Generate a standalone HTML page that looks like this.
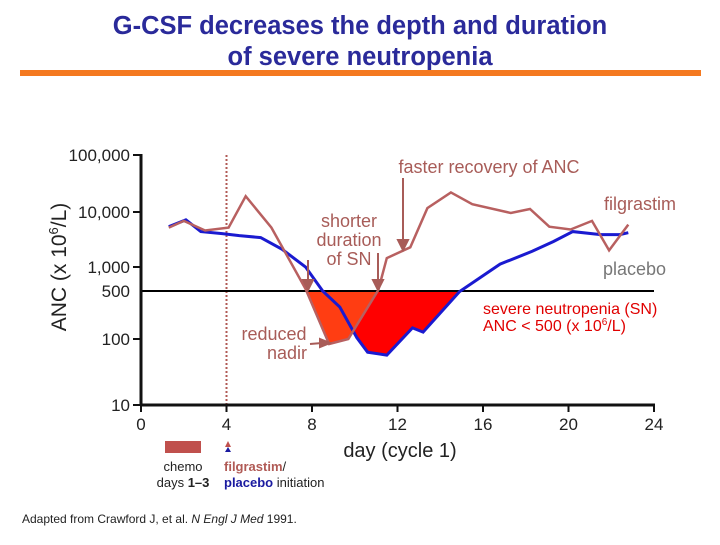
<!DOCTYPE html>
<html><head><meta charset="utf-8"><style>
body{margin:0;background:#fff;width:720px;height:540px;overflow:hidden;font-family:"Liberation Sans",sans-serif}
</style></head><body>
<svg id="chart" width="720" height="540" xmlns="http://www.w3.org/2000/svg" font-family="Liberation Sans, sans-serif">
<text x="360" y="34" text-anchor="middle" font-size="25.5" font-weight="bold" fill="#2a2a9a">G-CSF decreases the depth and duration</text>
<text x="360" y="65" text-anchor="middle" font-size="25.5" font-weight="bold" fill="#2a2a9a">of severe neutropenia</text>
<rect x="20" y="70" width="681" height="6" fill="#f47920"/>
<g id="plot"></g>
<text transform="translate(66,267) rotate(-90)" text-anchor="middle" font-size="21" fill="#222">ANC (x 10<tspan dy="-8" font-size="13">6</tspan><tspan dy="8">/L)</tspan></text>
<text x="400" y="457" text-anchor="middle" font-size="20" fill="#222">day (cycle 1)</text>
<text x="489" y="173" text-anchor="middle" font-size="18" fill="#a85c58">faster recovery of ANC</text>
<text text-anchor="middle" font-size="18" fill="#a85c58"><tspan x="349" y="227">shorter</tspan><tspan x="349" y="246">duration</tspan><tspan x="349" y="265">of SN</tspan></text>
<text text-anchor="middle" font-size="18" fill="#a85c58"><tspan x="274" y="340">reduced</tspan><tspan x="287" y="359">nadir</tspan></text>
<text x="604" y="210" font-size="18" fill="#a85c58">filgrastim</text>
<text x="603" y="275" font-size="18" fill="#777">placebo</text>
<text font-size="16" fill="#e00000"><tspan x="483" y="314">severe neutropenia (SN)</tspan><tspan x="483" y="331">ANC &lt; 500 (x 10</tspan><tspan dy="-6" font-size="10">6</tspan><tspan dy="6">/L)</tspan></text>
<g stroke="#a85c58" stroke-width="2" fill="#a85c58">
<line x1="403" y1="178" x2="403" y2="243"/><polygon points="398,240 408,240 403,250"/>
<line x1="308" y1="260" x2="308" y2="282"/><polygon points="303,280 313,280 308,290"/>
<line x1="378" y1="253" x2="378" y2="282"/><polygon points="373,280 383,280 378,290"/>
<line x1="310" y1="344" x2="322" y2="343"/><polygon points="320,339 330,343 320,347"/>
</g>
<rect x="165" y="441" width="36" height="12" fill="#c0504d"/>
<polygon points="228,441 225,447 231,447" fill="#c0504d"/>
<polygon points="228,447 225,452 231,452" fill="#1a1aa0"/>
<text text-anchor="middle" font-size="13" fill="#222"><tspan x="183" y="471">chemo</tspan><tspan x="183" y="487">days <tspan font-weight="bold">1–3</tspan></tspan></text>
<text font-size="13" fill="#222"><tspan x="224" y="471" font-weight="bold" fill="#b05a55">filgrastim</tspan><tspan>/</tspan><tspan x="224" y="487" font-weight="bold" fill="#1a1aa0">placebo</tspan><tspan> initiation</tspan></text>
<text x="22" y="523" font-size="12" fill="#222">Adapted from Crawford J, et al. <tspan font-style="italic">N Engl J Med</tspan> 1991.</text>
</svg>
<script>
const tickValues=[10,100,500,1000,10000,100000];
const tickLabels=["10","100","500","1,000","10,000","100,000"];
const xTicks=[0,4,8,12,16,20,24];
const filDays=[1.3,2.0,3.0,4.1,4.9,6.1,7.7,8.8,9.7,11.1,11.5,12.6,13.4,14.5,15.5,17.3,18.2,19.1,20.1,21.1,21.9,22.8];
const filANC=[5200,6900,4600,5200,18900,5200,530,84,100,515,1450,2280,11700,22100,13700,9600,11300,5400,4800,6900,2000,5900];
const plaDays=[1.3,2.1,2.8,3.8,4.6,5.6,6.6,7.7,8.5,9.3,10.1,10.6,11.5,12.7,13.2,14.9,16.8,18.3,19.3,20.2,21.5,22.4,22.8];
const plaANC=[5400,7200,4400,4050,3730,3430,2100,1000,500,292,104,63,57,145,126,490,1130,1930,2910,4400,3890,3890,4200];
const threshold=500;
const tickPx=[405,339,291,267,212,155];
const NS="http://www.w3.org/2000/svg";
function xs(d){return 141+d*(654-141)/24;}
function ys(v){const l=Math.log10(v);
 for(let i=0;i<tickValues.length-1;i++){const a=Math.log10(tickValues[i]),b=Math.log10(tickValues[i+1]);
  if(l<=b||i===tickValues.length-2){return tickPx[i]+(l-a)/(b-a)*(tickPx[i+1]-tickPx[i]);}}}
const g=document.getElementById('plot');
function mk(t,a){const e=document.createElementNS(NS,t);for(const k in a)e.setAttribute(k,a[k]);g.appendChild(e);return e;}
const y0=ys(threshold);
const defs=mk('defs',{});
const cp=document.createElementNS(NS,'clipPath');cp.setAttribute('id','below');
const cr=document.createElementNS(NS,'rect');cr.setAttribute('x',141);cr.setAttribute('y',y0);cr.setAttribute('width',520);cr.setAttribute('height',200);
cp.appendChild(cr);defs.appendChild(cp);
function pts(D,V){return D.map((d,i)=>xs(d).toFixed(1)+','+ys(V[i]).toFixed(1));}
function area(D,V,fill,name){const p=pts(D,V);
 const e=mk('path',{d:'M'+xs(D[0])+','+y0+' L'+p.join(' L')+' L'+xs(D[D.length-1])+','+y0+' Z',fill:fill,'clip-path':'url(#below)'});
 
 }
area(plaDays,plaANC,'#ff0000','placebo-sn-area');
area(filDays,filANC,'#ff3d12','filgrastim-sn-area');
const dl=mk('line',{x1:xs(4),y1:155,x2:xs(4),y2:410,stroke:'#b05a55','stroke-width':2,'stroke-dasharray':'2,2'});


const th=mk('line',{x1:141,y1:y0,x2:654,y2:y0,stroke:'#000','stroke-width':2});


const pl=mk('polyline',{points:pts(plaDays,plaANC).join(' '),fill:'none',stroke:'#1a1ad0','stroke-width':3});


const fl=mk('polyline',{points:pts(filDays,filANC).join(' '),fill:'none',stroke:'#b86060','stroke-width':2.5});


const ya=mk('line',{x1:141,y1:154,x2:141,y2:406,stroke:'#111','stroke-width':3});


const xa=mk('line',{x1:140,y1:405,x2:655,y2:405,stroke:'#111','stroke-width':3});


tickValues.forEach((v,i)=>{const y=ys(v);
 if(v!==threshold){mk('line',{x1:133,y1:y,x2:141,y2:y,stroke:'#111','stroke-width':2});}
 const t=mk('text',{x:130,y:y+6,'text-anchor':'end','font-size':17,fill:'#222'});t.textContent=tickLabels[i];
 
 });
xTicks.forEach(d=>{const x=xs(d);
 mk('line',{x1:x,y1:405,x2:x,y2:412,stroke:'#111','stroke-width':2});
 const t=mk('text',{x:x,y:430,'text-anchor':'middle','font-size':17,fill:'#222'});t.textContent=d;
 
 });
</script>
</body></html>
